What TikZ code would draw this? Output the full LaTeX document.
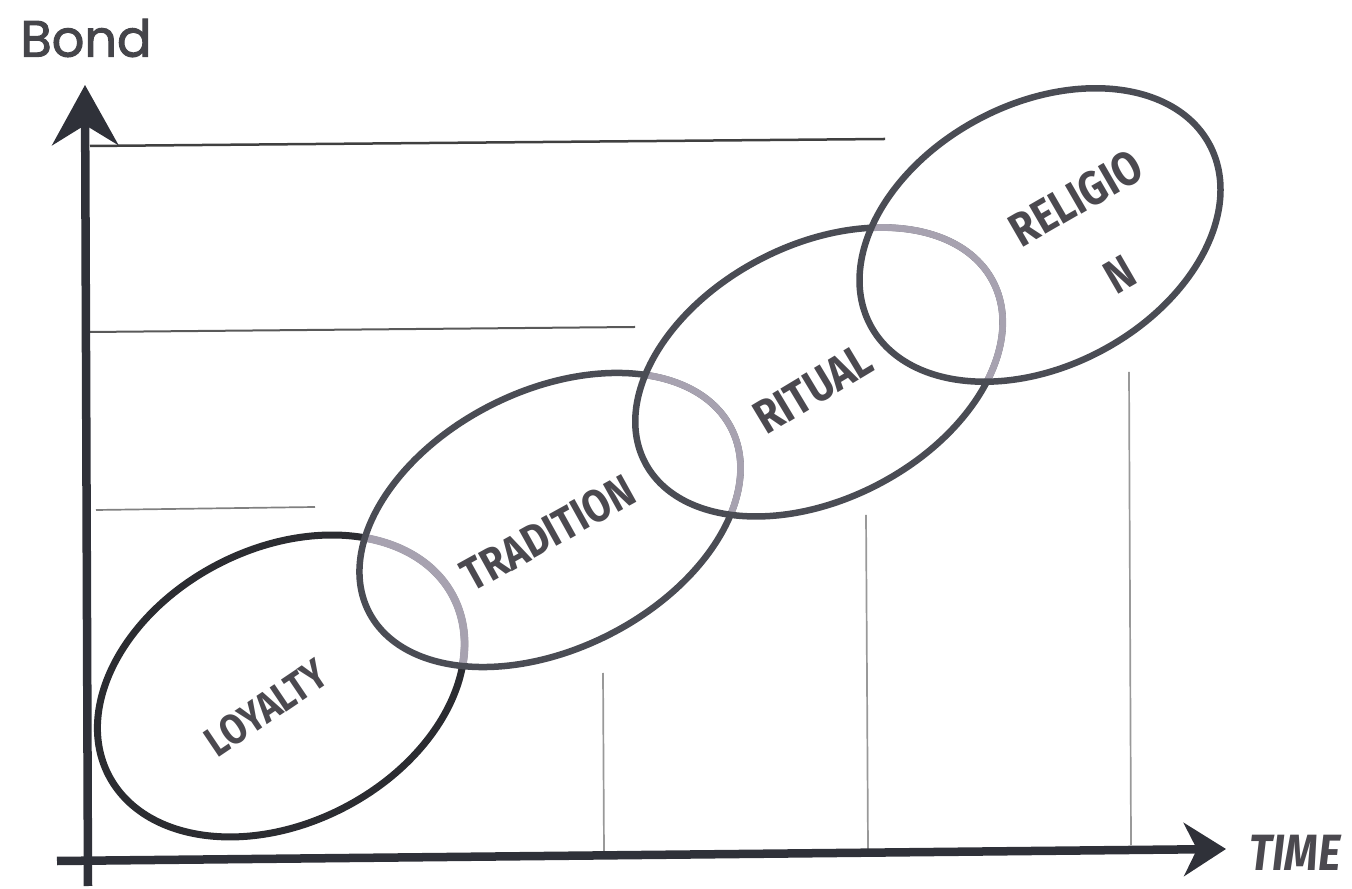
\documentclass[tikz,border=0pt]{standalone}
\usepackage{fontspec}
\usetikzlibrary{arrows.meta}
\newfontfamily\titlefont{Poppins}[FakeBold=2]
\newfontfamily\brushfont{Fira Sans}[FakeStretch=0.85]
\definecolor{axisink}{HTML}{2F3139}
\definecolor{ringdark}{HTML}{2B2C31}
\definecolor{ringmid}{HTML}{4A4C54}
\definecolor{ringlight}{HTML}{A7A2B0}
\definecolor{labelink}{HTML}{4B494F}
\definecolor{titleink}{HTML}{45454A}
\begin{document}
\begin{tikzpicture}[x=0.01cm,y=-0.01cm,
  axis/.style={draw=axisink,line width=0.085cm},
  gridtop/.style={draw=black!75,line width=0.025cm},
  gridmid/.style={draw=black!65,line width=0.02cm},
  gridlow/.style={draw=black!50,line width=0.017cm},
  gridvert/.style={draw=black!40,line width=0.017cm},
  firstring/.style={draw=ringdark,line width=0.07cm},
  ring/.style={draw=ringmid,line width=0.065cm},
  fadedring/.style={draw=ringlight,line width=0.068cm},
  brush/.style={text=labelink,font=\brushfont\bfseries\fontsize{12}{14}\selectfont,inner sep=0pt}]
\useasboundingbox (0,0) rectangle (1352,889);

% axis end points
\coordinate (yfoot) at (88,886);
\coordinate (ytip) at (85,85);
\coordinate (xfoot) at (57,861);
\coordinate (xtip) at (1226,849);

% reference levels and time marks
\coordinate (h1a) at (90,146);  \coordinate (h1b) at (885,139);
\coordinate (h2a) at (90,332);  \coordinate (h2b) at (635,327);
\coordinate (h3a) at (96,510);  \coordinate (h3b) at (315,507);
\coordinate (v1a) at (603,673); \coordinate (v1b) at (604,855);
\coordinate (v2a) at (866,515); \coordinate (v2b) at (868,850);
\coordinate (v3a) at (1129,372);\coordinate (v3b) at (1131,845);
\draw[gridtop] (h1a) -- (h1b);
\draw[gridmid] (h2a) -- (h2b);
\draw[gridlow] (h3a) -- (h3b);
\draw[gridvert] (v1a) -- (v1b);
\draw[gridvert] (v2a) -- (v2b);
\draw[gridvert] (v3a) -- (v3b);

% axes
\draw[axis,-{Stealth[length=0.6cm,width=0.66cm,inset=0.2cm]}] (yfoot) -- (ytip);
\draw[axis,-{Stealth[length=0.42cm,width=0.53cm,inset=0.13cm]}] (xfoot) -- (xtip);

% ring centres
\coordinate (c1) at (281,686);
\coordinate (c2) at (550,520);
\coordinate (c3) at (819,372);
\coordinate (c4) at (1040,235);

% each ring is faded where it runs inside the next one
\draw[firstring,rotate around={27.4:(c1)}] (c1) ellipse [x radius=1.94cm,y radius=1.37cm];
\begin{scope}
  \clip[rotate around={26.7:(c2)}] (c2) ellipse [x radius=2.03cm,y radius=1.29cm];
  \draw[fadedring,line width=0.078cm,rotate around={27.4:(c1)}] (c1) ellipse [x radius=1.94cm,y radius=1.37cm];
\end{scope}
\draw[ring,rotate around={26.7:(c2)}] (c2) ellipse [x radius=2.03cm,y radius=1.29cm];
\begin{scope}
  \clip[rotate around={27.4:(c3)}] (c3) ellipse [x radius=1.96cm,y radius=1.27cm];
  \draw[fadedring,rotate around={26.7:(c2)}] (c2) ellipse [x radius=2.03cm,y radius=1.29cm];
\end{scope}
\draw[ring,rotate around={27.4:(c3)}] (c3) ellipse [x radius=1.96cm,y radius=1.27cm];
\begin{scope}
  \clip[rotate around={28:(c4)}] (c4) ellipse [x radius=1.92cm,y radius=1.31cm];
  \draw[fadedring,rotate around={27.4:(c3)}] (c3) ellipse [x radius=1.96cm,y radius=1.27cm];
\end{scope}
\draw[ring,rotate around={28:(c4)}] (c4) ellipse [x radius=1.92cm,y radius=1.31cm];

% labels
\node[text=titleink,font=\titlefont\fontsize{14.5}{16}\selectfont,inner sep=0pt] (bond) at (86,38) {Bond};
\node[brush,font=\brushfont\bfseries\itshape\fontsize{14.5}{16}\selectfont] (time) at (1295,853) {TIME};
\node[brush,rotate=34] (loyalty) at (266,708) {LOYALTY};
\node[brush,rotate=29,font=\brushfont\bfseries\fontsize{13}{15}\selectfont] (tradition) at (548,533) {TRADITION};
\node[brush,rotate=31,font=\brushfont\bfseries\fontsize{13.5}{15}\selectfont] (ritual) at (813,389) {RITUAL};
\node[brush,rotate=30,align=center,font=\brushfont\bfseries\fontsize{13.5}{15}\selectfont] (religion) at (1098,236) {RELIGIO\\[0.75em]N};
\end{tikzpicture}
\end{document}
